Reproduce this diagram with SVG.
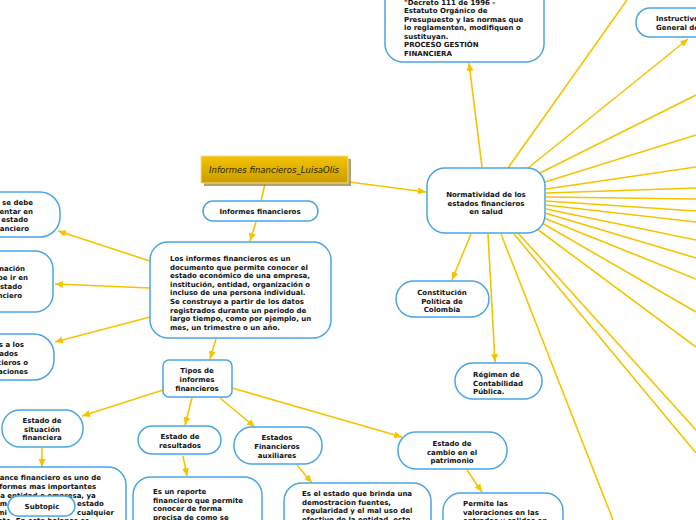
<svg xmlns="http://www.w3.org/2000/svg" width="696" height="520" viewBox="0 0 696 520">
<defs>
<linearGradient id="gold" x1="0" y1="0" x2="0" y2="1">
<stop offset="0" stop-color="#f3c400"/>
<stop offset="1" stop-color="#c99c00"/>
</linearGradient>
<marker id="ar" viewBox="0 0 8 8" refX="8" refY="4" markerWidth="8" markerHeight="8" markerUnits="userSpaceOnUse" orient="auto">
<path d="M0,0.5 L8,4 L0,7.5 z" fill="#f5c400"/>
</marker>
</defs>
<style>
.n{fill:#fff;stroke:#4aa5e3;stroke-width:1.5}
.t{font-family:"DejaVu Sans",Verdana,sans-serif;font-weight:bold;font-size:7px;fill:#111}
.c{text-anchor:middle}
.e{text-anchor:end}
#connectors line{stroke:#f5c400;stroke-width:1.6;fill:none}
.a{marker-end:url(#ar)}
</style>
<rect width="696" height="520" fill="#fff"/>
<g id="connectors">
<line x1="265" y1="184" x2="261" y2="201"/>
<line class="a" x1="256" y1="222" x2="250" y2="241"/>
<line class="a" x1="349" y1="182" x2="426" y2="192"/>
<line class="a" x1="150" y1="261" x2="58" y2="231"/>
<line class="a" x1="150" y1="288" x2="55" y2="284"/>
<line class="a" x1="150" y1="317" x2="55" y2="342"/>
<line class="a" x1="216" y1="339" x2="210" y2="359"/>
<line class="a" x1="163" y1="390" x2="82" y2="416"/>
<line class="a" x1="192" y1="398" x2="185" y2="425"/>
<line class="a" x1="220" y1="398" x2="255" y2="427"/>
<line class="a" x1="232" y1="388" x2="402" y2="437"/>
<line class="a" x1="42" y1="448" x2="42" y2="467"/>
<line class="a" x1="183" y1="456" x2="187" y2="476"/>
<line class="a" x1="297" y1="465" x2="312" y2="483"/>
<line class="a" x1="467" y1="470" x2="482" y2="492"/>
<line class="a" x1="471" y1="234" x2="452" y2="280"/>
<line class="a" x1="488" y1="234" x2="495" y2="362"/>
<line class="a" x1="482" y1="167" x2="469" y2="63"/>
<line x1="508" y1="168" x2="627" y2="0"/>
<line class="a" x1="528" y1="168" x2="688" y2="39"/>
<line x1="538" y1="174" x2="696" y2="95"/>
<line x1="545" y1="182" x2="696" y2="135"/>
<line x1="546" y1="189" x2="696" y2="167"/>
<line x1="546" y1="193" x2="696" y2="188"/>
<line x1="546" y1="197" x2="696" y2="199"/>
<line x1="546" y1="201" x2="696" y2="211"/>
<line x1="546" y1="205" x2="696" y2="222"/>
<line x1="546" y1="209" x2="696" y2="240"/>
<line x1="545" y1="213" x2="696" y2="258"/>
<line x1="544" y1="218" x2="696" y2="279"/>
<line x1="542" y1="223" x2="696" y2="312"/>
<line x1="537" y1="229" x2="696" y2="347"/>
<line x1="518" y1="233" x2="696" y2="430"/>
<line x1="514" y1="234" x2="696" y2="453"/>
<line x1="501" y1="234" x2="613" y2="520"/>
</g>
<g id="title">
<rect x="204" y="159" width="147" height="27" fill="#9a8a55" opacity="0.8"/>
<rect x="201" y="156" width="147" height="27" fill="url(#gold)" stroke="#f6e08a" stroke-width="1"/>
<text x="209" y="173" font-family="'DejaVu Sans',sans-serif" font-style="italic" font-size="9.5" fill="#2a2200" textLength="130" lengthAdjust="spacingAndGlyphs">Informes financieros_LuisaOlis</text>
</g>
<g id="informes">
<rect class="n" x="203" y="201" width="115" height="20" rx="10"/>
<text class="t c" x="260" y="214">Informes financieros</text>
</g>
<g id="definicion">
<rect class="n" x="150" y="242" width="181" height="96" rx="18"/>
<text class="t" x="170" y="261">Los informes financieros es un</text>
<text class="t" x="170" y="269.6">documento que permite conocer el</text>
<text class="t" x="170" y="278.2">estado económico de una empresa,</text>
<text class="t" x="170" y="286.8">institución, entidad, organización o</text>
<text class="t" x="170" y="295.4">incluso de una persona individual.</text>
<text class="t" x="170" y="304">Se construye a partir de los datos</text>
<text class="t" x="170" y="312.6">registrados durante un periodo de</text>
<text class="t" x="170" y="321.2">largo tiempo, como por ejemplo, un</text>
<text class="t" x="170" y="329.8">mes, un trimestre o un año.</text>
</g>
<g id="left1">
<rect class="n" x="-40" y="192" width="100" height="45" rx="20"/>
<text class="t e" x="33" y="205">Lo que se debe</text>
<text class="t e" x="33" y="213.5">presentar en</text>
<text class="t e" x="28" y="222">el estado</text>
<text class="t e" x="29" y="230.5">financiero</text>
</g>
<g id="left2">
<rect class="n" x="-40" y="251" width="93" height="61" rx="18"/>
<text class="t e" x="25" y="271">Información</text>
<text class="t e" x="28" y="280">que debe ir en</text>
<text class="t e" x="22" y="289">el estado</text>
<text class="t e" x="22" y="298">financiero</text>
</g>
<g id="left3">
<rect class="n" x="-40" y="334" width="94" height="46" rx="20"/>
<text class="t e" x="24" y="347">Notas a los</text>
<text class="t e" x="18" y="356">estados</text>
<text class="t e" x="28" y="365">financieros o</text>
<text class="t e" x="28" y="373.5">revelaciones</text>
</g>
<g id="tipos">
<rect class="n" x="163" y="360" width="69" height="37" rx="6"/>
<text class="t c" x="197" y="373">Tipos de</text>
<text class="t c" x="197" y="382">informes</text>
<text class="t c" x="197" y="390.5">financieros</text>
</g>
<g id="situacion">
<rect class="n" x="2" y="410" width="81" height="37" rx="18"/>
<text class="t c" x="42" y="423">Estado de</text>
<text class="t c" x="42" y="431.5">situación</text>
<text class="t c" x="42" y="440">financiera</text>
</g>
<g id="balance">
<rect class="n" x="-40" y="467" width="166" height="80" rx="18"/>
<text class="t" x="-22" y="480">El balance financiero es uno de</text>
<text class="t" x="-22" y="489">los informes mas importantes</text>
<text class="t" x="-22" y="497.5">de una entidad o empresa, ya</text>
<text class="t e" x="7" y="506">que perm</text>
<text class="t" x="77" y="506">estado</text>
<text class="t e" x="7" y="514.5">económi</text>
<text class="t" x="77" y="514.5">cualquier</text>
<text class="t" x="-22" y="523">instante. En este balance se</text>
</g>
<g id="subtopic">
<rect class="n" x="8" y="496" width="67" height="20" rx="10"/>
<text class="t c" x="42" y="508.5">Subtopic</text>
</g>
<g id="resultados">
<rect class="n" x="138" y="426" width="83" height="28" rx="14"/>
<text class="t c" x="180" y="439">Estado de</text>
<text class="t c" x="180" y="447.5">resultados</text>
</g>
<g id="reporte">
<rect class="n" x="133" y="477" width="129" height="70" rx="18"/>
<text class="t" x="153" y="494">Es un reporte</text>
<text class="t" x="153" y="502.5">financiero que permite</text>
<text class="t" x="153" y="511">conocer de forma</text>
<text class="t" x="153" y="519.5">precisa de como se</text>
</g>
<g id="auxiliares">
<rect class="n" x="234" y="427" width="88" height="37" rx="18"/>
<text class="t c" x="277" y="440">Estados</text>
<text class="t c" x="277" y="449">Financieros</text>
<text class="t c" x="277" y="457.5">auxiliares</text>
</g>
<g id="efectivo">
<rect class="n" x="284" y="483" width="147" height="60" rx="18"/>
<text class="t" x="302" y="496">Es el estado que brinda una</text>
<text class="t" x="302" y="504.5">demostracion fuentes,</text>
<text class="t" x="302" y="513">regularidad y el mal uso del</text>
<text class="t" x="302" y="521.5">efectivo de la entidad, esto</text>
</g>
<g id="patrimonio">
<rect class="n" x="398" y="432" width="109" height="37" rx="18"/>
<text class="t c" x="452" y="446">Estado de</text>
<text class="t c" x="452" y="454.5">cambio en el</text>
<text class="t c" x="452" y="463">patrimonio</text>
</g>
<g id="permite">
<rect class="n" x="443" y="493" width="120" height="60" rx="18"/>
<text class="t" x="463" y="506">Permite las</text>
<text class="t" x="463" y="514.5">valoraciones en las</text>
<text class="t" x="463" y="523">entradas y salidas en</text>
</g>
<g id="normatividad">
<rect class="n" x="427" y="168" width="118" height="65" rx="18"/>
<text class="t c" x="486" y="197">Normatividad de los</text>
<text class="t c" x="486" y="205.5">estados financieros</text>
<text class="t c" x="486" y="214">en salud</text>
</g>
<g id="constitucion">
<rect class="n" x="396" y="281" width="93" height="36" rx="18"/>
<text class="t c" x="442" y="295">Constitución</text>
<text class="t c" x="442" y="303.5">Política de</text>
<text class="t c" x="442" y="312">Colombia</text>
</g>
<g id="regimen">
<rect class="n" x="455" y="363" width="87" height="36" rx="18"/>
<text class="t" x="473" y="377">Régimen de</text>
<text class="t" x="473" y="385.5">Contabilidad</text>
<text class="t" x="473" y="394">Pública.</text>
</g>
<g id="decreto">
<rect class="n" x="385" y="-20" width="159" height="82" rx="18"/>
<text class="t" x="404" y="4.5">"Decreto 111 de 1996 -</text>
<text class="t" x="404" y="13">Estatuto Orgánico de</text>
<text class="t" x="404" y="21.5">Presupuesto y las normas que</text>
<text class="t" x="404" y="30">lo reglamenten, modifiquen o</text>
<text class="t" x="404" y="38.5">sustituyan.</text>
<text class="t" x="404" y="47">PROCESO GESTIÓN</text>
<text class="t" x="404" y="55.5">FINANCIERA</text>
</g>
<g id="instructivo">
<rect class="n" x="636" y="8" width="100" height="29" rx="14"/>
<text class="t" x="656" y="21">Instructivo</text>
<text class="t" x="656" y="30">General de la</text>
</g>
</svg>
